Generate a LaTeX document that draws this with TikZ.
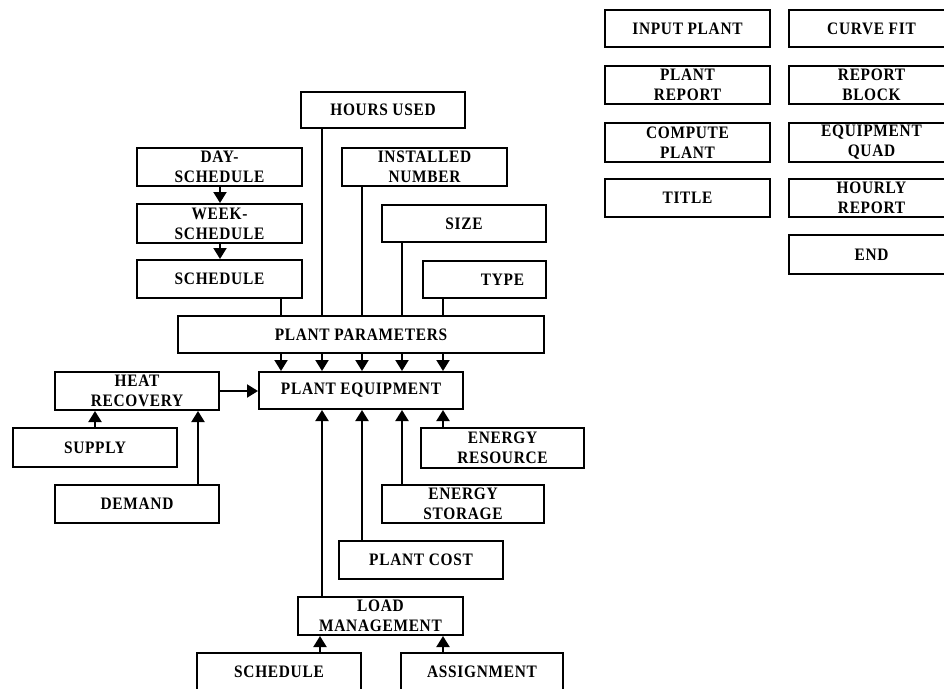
\documentclass[tikz,border=0pt]{standalone}
\usepackage{fontspec}
\setmainfont{Liberation Serif}[LetterSpace=4,FakeStretch=0.88]
\usetikzlibrary{arrows.meta}
\tikzset{
  box/.style={draw, line width=2pt, inner sep=0pt, align=center,
    font=\bfseries\fontsize{17.5}{20}\selectfont},
  link/.style={line width=2pt},
  arr/.style={line width=2pt, -{Triangle[width=13pt,length=11pt]}}
}
\newcommand\bx[6]{\node[box,minimum width={(#4-#2)*1pt},minimum height={(#5-#3)*1pt}] (#1) at ({(#2+#4)/2},{(#3+#5)/2}) {#6};}
\begin{document}
\begin{tikzpicture}[x=1pt,y=-1pt]
\useasboundingbox (0,0) rectangle (944,688);
\clip (0,0) rectangle (944,688);
% right column
\bx{input}{605}{10}{770}{47}{INPUT PLANT}
\bx{curve}{789}{10}{954}{47}{CURVE FIT}
\bx{prep}{605}{66}{770}{104}{PLANT\\REPORT}
\bx{rblock}{789}{66}{954}{104}{REPORT\\BLOCK}
\bx{comp}{605}{123}{770}{162}{COMPUTE\\PLANT}
\bx{equad}{789}{123}{954}{162}{EQUIPMENT\\QUAD}
\bx{title}{605}{179}{770}{217}{TITLE}
\bx{hourly}{789}{179}{954}{217}{HOURLY\\REPORT}
\bx{end}{789}{235}{954}{274}{END}
% main diagram
\bx{hours}{301}{92}{465}{128}{HOURS USED}
\bx{day}{137}{148}{302}{186}{DAY-\\SCHEDULE}
\bx{inst}{342}{148}{507}{186}{INSTALLED\\NUMBER}
\bx{week}{137}{204}{302}{243}{WEEK-\\SCHEDULE}
\bx{size}{382}{205}{546}{242}{SIZE}
\bx{sched}{137}{260}{302}{298}{SCHEDULE}
\bx{type}{423}{261}{546}{298}{\hspace*{36pt}TYPE}
\bx{pp}{178}{316}{544}{353}{PLANT PARAMETERS}
\bx{pe}{259}{372}{463}{409}{PLANT EQUIPMENT}
\bx{heat}{55}{372}{219}{410}{HEAT\\RECOVERY}
\bx{supply}{13}{428}{177}{467}{SUPPLY}
\bx{demand}{55}{485}{219}{523}{DEMAND}
\bx{eres}{421}{428}{584}{468}{ENERGY\\RESOURCE}
\bx{estor}{382}{485}{544}{523}{ENERGY\\STORAGE}
\bx{cost}{339}{541}{503}{579}{PLANT COST}
\bx{load}{298}{597}{463}{635}{LOAD\\MANAGEMENT}
\bx{schedb}{197}{653}{361}{691}{SCHEDULE}
\bx{assign}{401}{653}{563}{691}{ASSIGNMENT}
% column coordinates
\coordinate (c1) at (281,0);
\coordinate (c2) at (322,0);
\coordinate (c3) at (362,0);
\coordinate (c4) at (402,0);
\coordinate (c5) at (443,0);
\coordinate (cs) at (220,0);
\coordinate (cd) at (198,0);
\coordinate (cl) at (320,0);
% connectors
\draw[arr] (cs |- day.south) -- (cs |- week.north);
\draw[arr] (cs |- week.south) -- (cs |- sched.north);
\draw[link] (c1 |- sched.south) -- (c1 |- pp.north);
\draw[link] (c2 |- hours.south) -- (c2 |- pp.north);
\draw[link] (c3 |- inst.south) -- (c3 |- pp.north);
\draw[link] (c4 |- size.south) -- (c4 |- pp.north);
\draw[link] (c5 |- type.south) -- (c5 |- pp.north);
\foreach \c in {c1,c2,c3,c4,c5}
  \draw[arr] (\c |- pp.south) -- (\c |- pe.north);
\draw[arr] (heat.east) -- (heat.east -| pe.west);
\draw[arr] (supply.north) -- (supply.north |- heat.south);
\draw[arr] (cd |- demand.north) -- (cd |- heat.south);
\draw[arr] (c2 |- load.north) -- (c2 |- pe.south);
\draw[arr] (c3 |- cost.north) -- (c3 |- pe.south);
\draw[arr] (c4 |- estor.north) -- (c4 |- pe.south);
\draw[arr] (c5 |- eres.north) -- (c5 |- pe.south);
\draw[arr] (cl |- schedb.north) -- (cl |- load.south);
\draw[arr] (c5 |- assign.north) -- (c5 |- load.south);
\end{tikzpicture}
\end{document}
